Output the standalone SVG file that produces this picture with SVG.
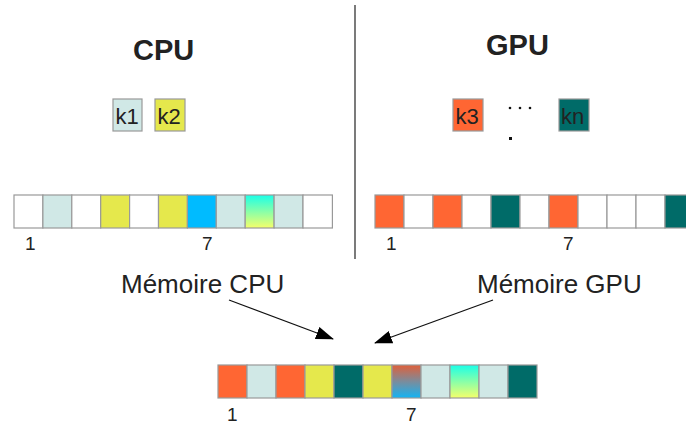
<svg xmlns="http://www.w3.org/2000/svg" width="686" height="426" viewBox="0 0 686 426">
<style>
text{font-family:"Liberation Sans",Arial,sans-serif;fill:#222}
.t{font-size:29px;font-weight:bold}
.k{font-size:22px}
.n{font-size:19px}
.m{font-size:26px}
.c{stroke:#999;stroke-width:1.2}
.w{fill:#fff}.lc{fill:#d0e8e6}.y{fill:#e5e84c}.b{fill:#00bbff}.o{fill:#ff6633}.te{fill:#006b68}
.g1{fill:url(#gcy)}.g2{fill:url(#gob)}
.ln{stroke:#111;stroke-width:1.3;fill:none}
</style>
<defs>
<linearGradient id="gcy" x1="0" y1="0" x2="0" y2="1"><stop offset="0" stop-color="#1affe8"/><stop offset="1" stop-color="#f5ff6a"/></linearGradient>
<linearGradient id="gob" x1="0" y1="0" x2="0" y2="1"><stop offset="0" stop-color="#e0603a"/><stop offset="0.5" stop-color="#7b8c9c"/><stop offset="1" stop-color="#12b4f4"/></linearGradient>
<marker id="ah" markerWidth="18" markerHeight="13" refX="17" refY="6.5" orient="auto" markerUnits="userSpaceOnUse" viewBox="0 0 18 13"><path d="M0,0 L18,6.5 L0,13 Z" fill="#000"/></marker>
</defs>
<rect width="686" height="426" fill="#fff"/>
<line x1="355" y1="5" x2="355" y2="259" stroke="#333" stroke-width="1.3"/>
<g id="cpu-title"><text class="t" x="133" y="60">CPU</text></g>
<g id="gpu-title"><text class="t" x="486" y="55">GPU</text></g>
<g id="k1"><rect class="c lc" x="113" y="99" width="29" height="32"/><text class="k" x="115.5" y="123.5">k1</text></g>
<g id="k2"><rect class="c y" x="155" y="99" width="30" height="32"/><text class="k" x="157.5" y="123.5">k2</text></g>
<g id="k3"><rect class="c o" x="453" y="99" width="30" height="32"/><text class="k" x="455.5" y="123.5">k3</text></g>
<g id="dots"><circle cx="510" cy="108" r="1.3" fill="#111"/><circle cx="520" cy="108" r="1.3" fill="#111"/><circle cx="530" cy="108" r="1.3" fill="#111"/><rect x="509" y="137" width="3" height="3" fill="#111"/></g>
<g id="kn"><rect class="c te" x="559" y="99" width="30" height="32"/><text class="k" x="561" y="123.5">kn</text></g>
<g id="cpu-mem">
<rect class="c w" x="14" y="195" width="28.9" height="33"/>
<rect class="c lc" x="42.9" y="195" width="28.9" height="33"/>
<rect class="c w" x="71.8" y="195" width="28.9" height="33"/>
<rect class="c y" x="100.7" y="195" width="28.9" height="33"/>
<rect class="c w" x="129.6" y="195" width="28.9" height="33"/>
<rect class="c y" x="158.5" y="195" width="28.9" height="33"/>
<rect class="c b" x="187.4" y="195" width="28.9" height="33"/>
<rect class="c lc" x="216.3" y="195" width="28.9" height="33"/>
<rect class="c g1" x="245.2" y="195" width="28.9" height="33"/>
<rect class="c lc" x="274.1" y="195" width="28.9" height="33"/>
<rect class="c w" x="303" y="195" width="29.4" height="33"/>
<text class="n" x="25" y="250">1</text><text class="n" x="202" y="250">7</text>
</g>
<g id="gpu-mem">
<rect class="c o" x="375" y="195" width="29" height="33"/>
<rect class="c w" x="404" y="195" width="29" height="33"/>
<rect class="c o" x="433" y="195" width="29" height="33"/>
<rect class="c w" x="462" y="195" width="29" height="33"/>
<rect class="c te" x="491" y="195" width="29" height="33"/>
<rect class="c w" x="520" y="195" width="29" height="33"/>
<rect class="c o" x="549" y="195" width="29" height="33"/>
<rect class="c w" x="578" y="195" width="29" height="33"/>
<rect class="c w" x="607" y="195" width="29" height="33"/>
<rect class="c w" x="636" y="195" width="29" height="33"/>
<rect class="c te" x="665" y="195" width="29" height="33"/>
<text class="n" x="386" y="250">1</text><text class="n" x="563" y="250">7</text>
</g>
<g id="label-cpu"><text class="m" x="121" y="293">Mémoire CPU</text></g>
<g id="label-gpu"><text class="m" x="477" y="293">Mémoire GPU</text></g>
<g id="connectors">
<line class="ln" x1="229" y1="300" x2="333" y2="339" marker-end="url(#ah)"/>
<line class="ln" x1="493" y1="300" x2="375" y2="343" marker-end="url(#ah)"/>
</g>
<g id="merged-mem">
<rect class="c o" x="218" y="365" width="29" height="33"/>
<rect class="c lc" x="247" y="365" width="29" height="33"/>
<rect class="c o" x="276" y="365" width="29" height="33"/>
<rect class="c y" x="305" y="365" width="29" height="33"/>
<rect class="c te" x="334" y="365" width="29" height="33"/>
<rect class="c y" x="363" y="365" width="29" height="33"/>
<rect class="c g2" x="392" y="365" width="29" height="33"/>
<rect class="c lc" x="421" y="365" width="29" height="33"/>
<rect class="c g1" x="450" y="365" width="29" height="33"/>
<rect class="c lc" x="479" y="365" width="29" height="33"/>
<rect class="c te" x="508" y="365" width="29" height="33"/>
<text class="n" x="227" y="421">1</text><text class="n" x="406" y="421">7</text>
</g>
</svg>
